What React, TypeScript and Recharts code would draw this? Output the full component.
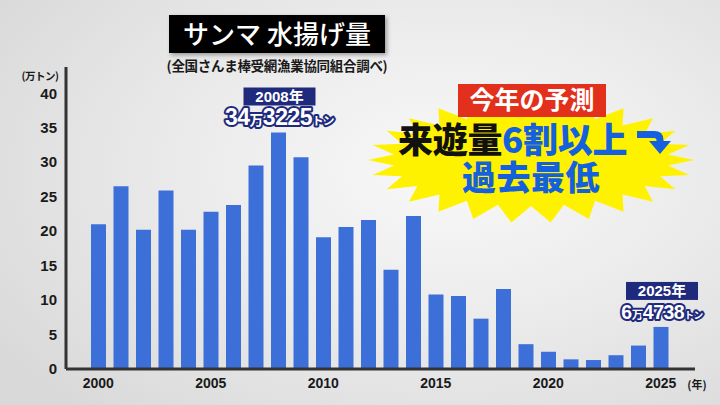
import { BarChart, Bar, XAxis, YAxis, LabelList } from "recharts";

const years = [
  2000, 2001, 2002, 2003, 2004, 2005, 2006, 2007, 2008, 2009, 2010, 2011, 2012,
  2013, 2014, 2015, 2016, 2017, 2018, 2019, 2020, 2021, 2022, 2023, 2024, 2025,
];
// 万トン
const landings = [
  21.0, 26.5, 20.2, 25.9, 20.2, 22.8, 23.8, 29.5, 34.3, 30.7, 19.1, 20.6, 21.6,
  14.4, 22.2, 10.8, 10.6, 7.3, 11.6, 3.6, 2.5, 1.4, 1.3, 2.0, 3.4, 6.1,
];
const yTicks = [0, 5, 10, 15, 20, 25, 30, 35, 40];
const labelledYears = [2000, 2005, 2010, 2015, 2020, 2025];

const title = "サンマ 水揚げ量";
const source = "(全国さんま棒受網漁業協同組合調べ)";
const unitLabel = "(万トン)";
const yearUnit = "(年)";
const calloutYears = [2008, 2025];
const calloutTitles = ["2008年", "2025年"];
const calloutMan = ["34", "6"];
const calloutRest = ["3225", "4738"];
const forecastHead = "今年の予測";
const forecastBlack = "来遊量";
const forecastBlue = "6割以上";
const forecastLine2 = "過去最低";

const data = years.map((year, i) => ({ year, value: landings[i] }));

const NAVY = "#1f2a7c";
const BLUE = "#3d6fd8";
const TEXT_BLUE = "#1560dc";
const NUM_FONT = "'Liberation Sans', 'Noto Sans CJK JP', sans-serif";
const JP_FONT = "'Noto Sans CJK JP', sans-serif";

function Callout(props: any) {
  const { x, y, width, value } = props;
  const k = calloutYears.indexOf(value);
  if (k < 0) return null;
  const cx = x + width / 2 + 1;
  const big = k === 0 ? 23 : 19.5;
  return (
    <g>
      <rect x={cx - 36} y={y - 45} width={72} height={18} fill={NAVY} />
      <text x={cx} y={y - 30.5} textAnchor="middle" fill="#fff" fontSize={15} fontWeight={700} fontFamily={NUM_FONT}>
        {calloutTitles[k]}
      </text>
      <text
        x={cx}
        y={y - 8}
        textAnchor="middle"
        fill="#fff"
        stroke={NAVY}
        strokeWidth={4}
        strokeLinejoin="round"
        paintOrder="stroke"
        fontWeight={700}
        fontFamily={NUM_FONT}
        letterSpacing={-0.5}
      >
        <tspan fontSize={big}>{calloutMan[k]}</tspan>
        <tspan fontSize={big * 0.6}>万</tspan>
        <tspan fontSize={big}>{calloutRest[k]}</tspan>
        <tspan fontSize={big * 0.5}>トン</tspan>
      </text>
    </g>
  );
}

function starPoints(cx: number, cy: number, n: number) {
  const pts: string[] = [];
  for (let i = 0; i < n * 2; i++) {
    const a = (Math.PI * i) / n;
    const outer = i % 2 === 0;
    const rx = outer ? 163 : 138;
    const ry = outer ? 63 : 46;
    pts.push(`${(cx + rx * Math.cos(a)).toFixed(1)},${(cy + ry * Math.sin(a)).toFixed(1)}`);
  }
  return pts.join(" ");
}

export default function App() {
  return (
    <div
      style={{
        position: "absolute",
        left: 0,
        top: 0,
        width: 720,
        height: 405,
        overflow: "hidden",
        background:
          "radial-gradient(ellipse 75% 80% at 62% 42%, #f8f8f8 0%, #ececec 45%, #d9d9d9 100%)",
      }}
    >
      <BarChart
        width={720}
        height={405}
        data={data}
        margin={{ top: 67, right: 25, bottom: 5, left: 0 }}
        style={{ position: "absolute", left: 0, top: 0 }}
      >
        <XAxis
          dataKey="year"
          interval={0}
          padding={{ left: 21, right: 23 }}
          height={31}
          tickSize={0}
          tickMargin={9}
          tickLine={false}
          axisLine={{ stroke: "#333", strokeWidth: 3 }}
          tickFormatter={(v) => (labelledYears.includes(Number(v)) ? String(v) : "")}
          tick={{ fill: "#1a1a1a", fontSize: 14, fontWeight: 700, fontFamily: NUM_FONT }}
        />
        <YAxis
          type="number"
          domain={[0, 43.8]}
          ticks={yTicks}
          width={66}
          tickSize={0}
          tickMargin={9}
          tickLine={false}
          axisLine={{ stroke: "#333", strokeWidth: 3 }}
          tick={{ fill: "#1a1a1a", fontSize: 15, fontWeight: 700, fontFamily: NUM_FONT }}
        />
        <Bar dataKey="value" fill={BLUE} barSize={15} isAnimationActive={false}>
          <LabelList dataKey="year" content={Callout} />
        </Bar>
      </BarChart>

      <svg width={720} height={405} style={{ position: "absolute", left: 0, top: 0, pointerEvents: "none" }}>
        <defs>
          <filter id="sh" x="-10%" y="-20%" width="130%" height="160%">
            <feDropShadow dx="2" dy="2" stdDeviation="2" floodOpacity="0.35" />
          </filter>
        </defs>
        <rect x={169} y={15} width={216} height={38} fill="#000" filter="url(#sh)" />
        <text x={277} y={44} textAnchor="middle" fill="#fff" fontSize={26} fontWeight={500} fontFamily={JP_FONT}>
          {title}
        </text>
        <text x={277} y={71} textAnchor="middle" fill="#1a1a1a" fontSize={13.5} fontWeight={700} fontFamily={JP_FONT} letterSpacing={-0.3}>
          {source}
        </text>
        <text x={40} y={80} textAnchor="middle" fill="#1a1a1a" fontSize={10.5} fontWeight={700} fontFamily={JP_FONT} letterSpacing={-0.5}>
          {unitLabel}
        </text>
        <text x={697} y={389} textAnchor="middle" fill="#1a1a1a" fontSize={11} fontWeight={700} fontFamily={JP_FONT}>
          {yearUnit}
        </text>

        <polygon points={starPoints(531, 160, 26)} fill="#fff200" />
        <rect x={458} y={84} width={148} height={33} fill="#e2301c" />
        <text x={532} y={109} textAnchor="middle" fill="#fff" fontSize={25} fontWeight={700} fontFamily={JP_FONT}>
          {forecastHead}
        </text>
        <text x={398} y={152.5} fontSize={35} fontWeight={900} fontFamily={JP_FONT} letterSpacing={-0.3}>
          <tspan fill="#111">{forecastBlack}</tspan>
          <tspan fill={TEXT_BLUE}>{forecastBlue}</tspan>
        </text>
        <path d="M637 134.5 L654 134.5 Q660 134.5 660 140 L660 142" stroke={TEXT_BLUE} strokeWidth={7} fill="none" />
        <path d="M649 141 L671 141 L660 154 Z" fill={TEXT_BLUE} />
        <text x={531} y={189.5} textAnchor="middle" fill={TEXT_BLUE} fontSize={34} fontWeight={900} fontFamily={JP_FONT} letterSpacing={0.5}>
          {forecastLine2}
        </text>
      </svg>
    </div>
  );
}
